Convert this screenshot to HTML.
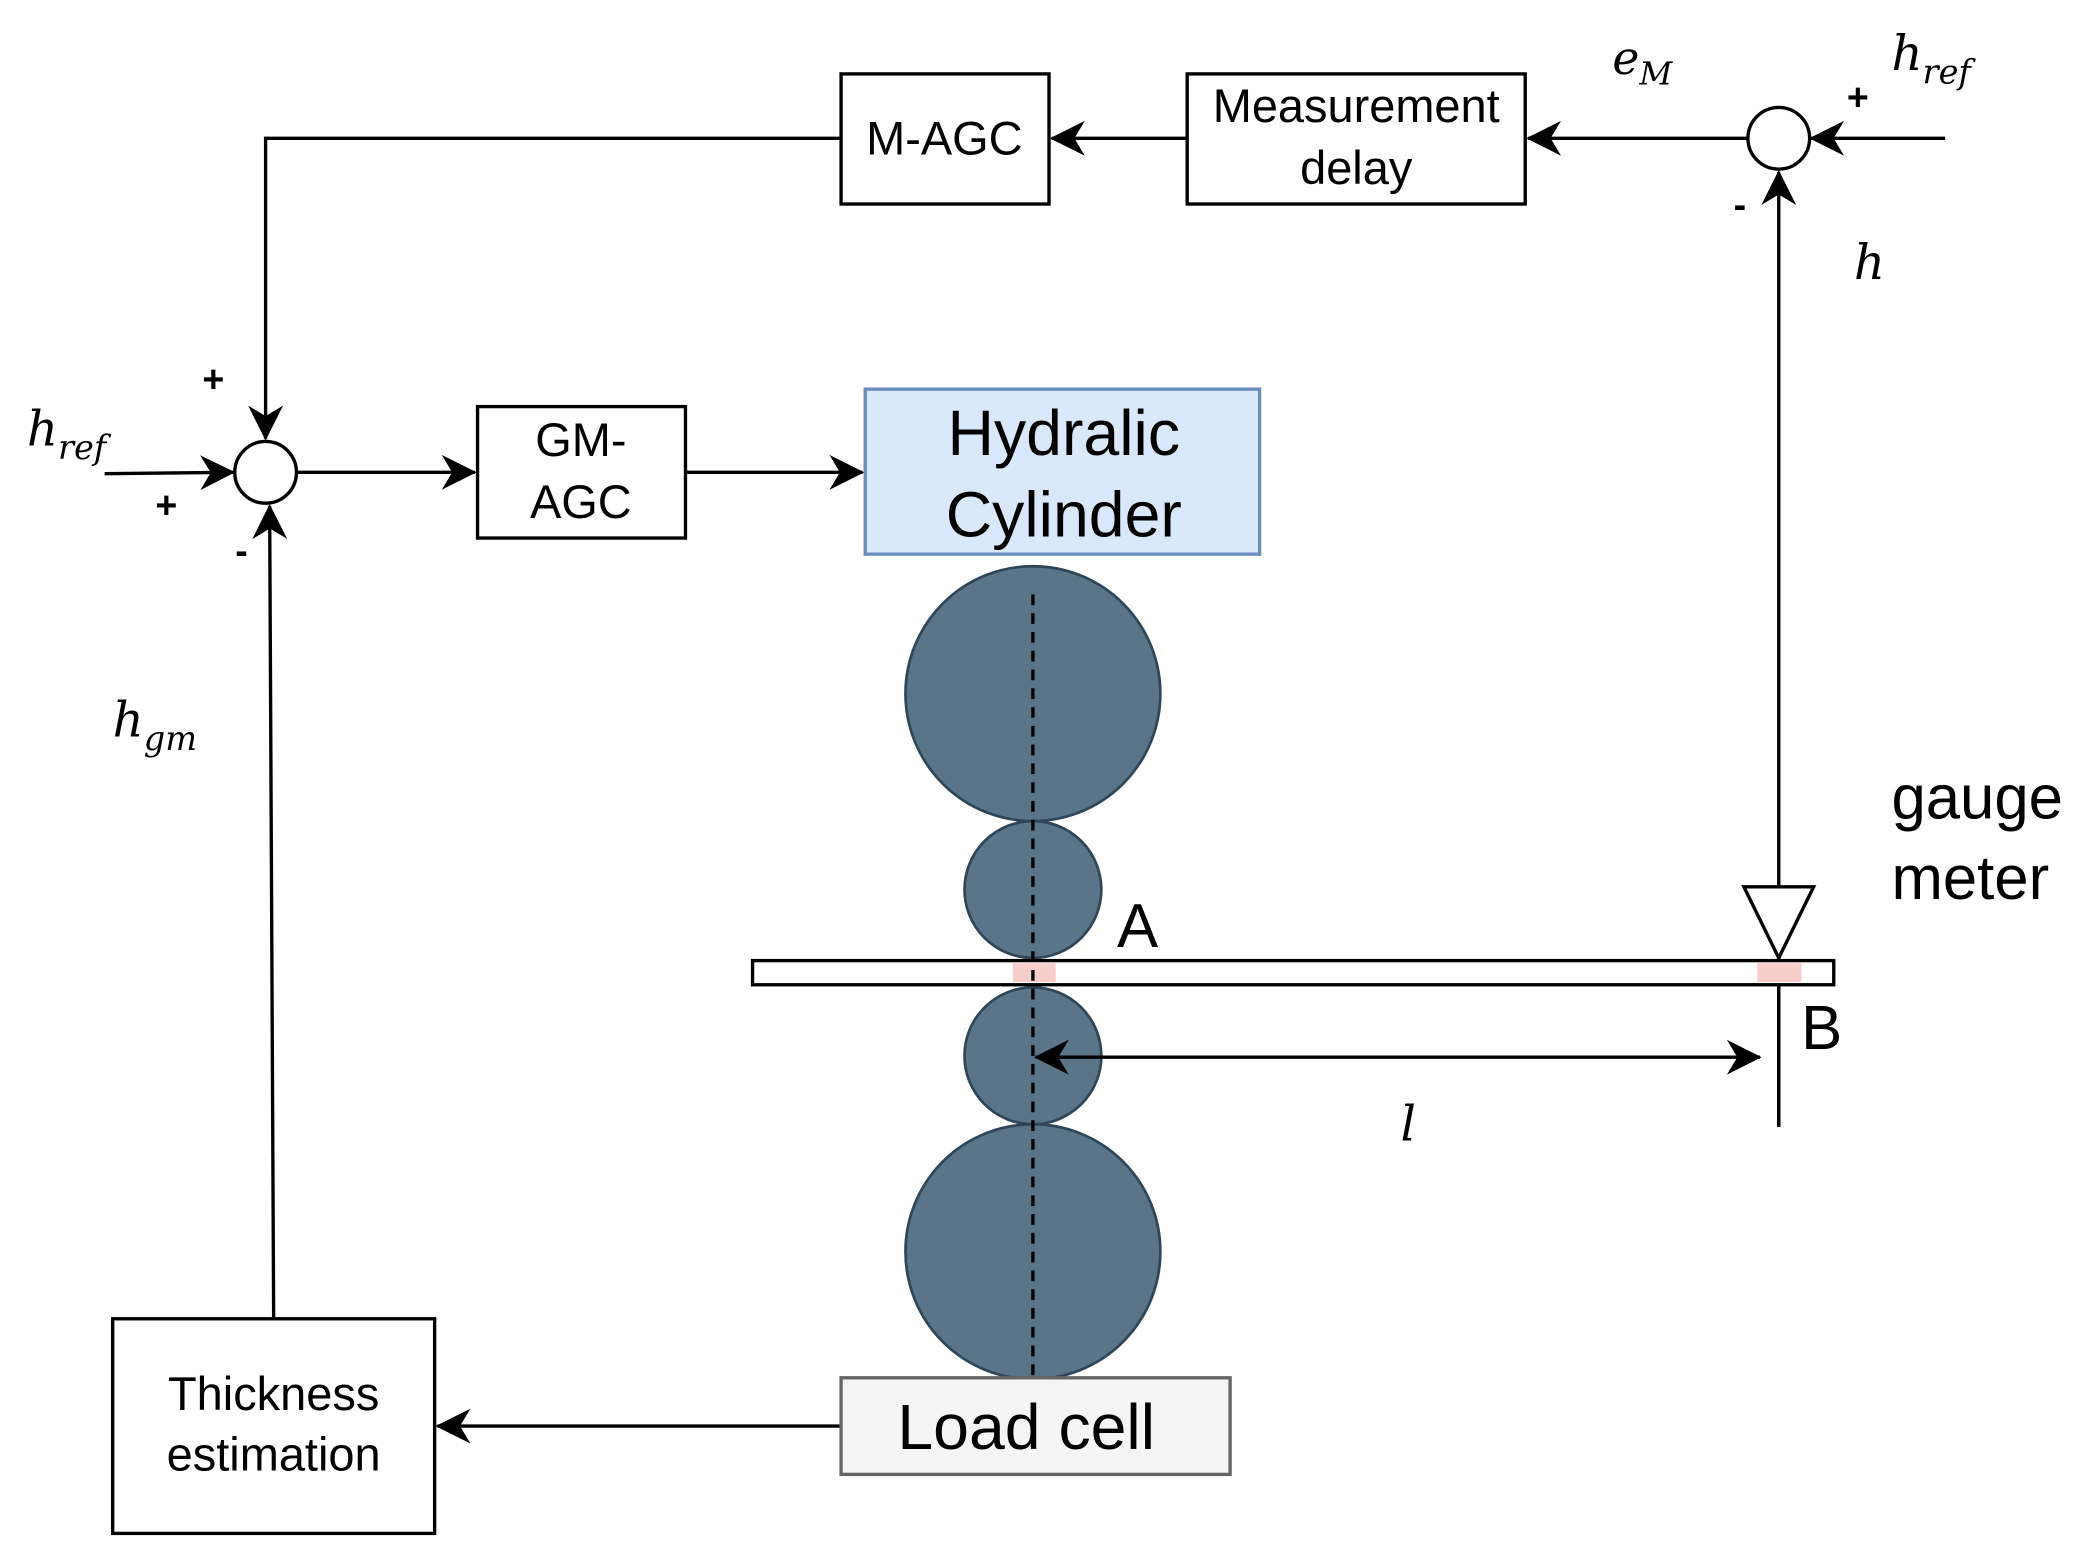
<!DOCTYPE html>
<html><head><meta charset="utf-8"><style>html,body{margin:0;padding:0;background:#fff}svg{display:block}</style></head>
<body>
<svg width="2094" height="1555" viewBox="0 0 1561 1159" xmlns="http://www.w3.org/2000/svg" font-family="Liberation Sans, sans-serif">
<defs>
<marker id="a" viewBox="0 0 20 20" refX="19" refY="10" markerWidth="26" markerHeight="26" markerUnits="userSpaceOnUse" orient="auto-start-reverse">
<path d="M0,0 L20,10 L0,20 L6,10 Z" fill="#000"/></marker>
</defs>
<g stroke="#000" stroke-width="2.5" fill="none">
<line x1="1450" y1="103" x2="1350" y2="103" marker-end="url(#a)"/>
<line x1="1303" y1="103" x2="1139" y2="103" marker-end="url(#a)"/>
<line x1="885" y1="103" x2="784" y2="103" marker-end="url(#a)"/>
<polyline points="627,103 198,103 198,327" marker-end="url(#a)"/>
<line x1="78" y1="353" x2="174" y2="352" marker-end="url(#a)"/>
<line x1="221" y1="352" x2="354" y2="352" marker-end="url(#a)"/>
<line x1="511" y1="352" x2="643" y2="352" marker-end="url(#a)"/>
<line x1="627" y1="1063" x2="326" y2="1063" marker-end="url(#a)"/>
<line x1="204" y1="983" x2="201" y2="377" marker-end="url(#a)"/>
<line x1="1326" y1="840" x2="1326" y2="128" marker-end="url(#a)"/>
<circle cx="1326" cy="103" r="23" fill="#fff"/>
<circle cx="198" cy="352" r="23" fill="#fff"/>
<rect x="627" y="55" width="155" height="97" fill="#fff"/>
<rect x="885" y="55" width="252" height="97" fill="#fff"/>
<rect x="356" y="303" width="155" height="98" fill="#fff"/>
<rect x="84" y="983" width="240" height="160" fill="#fff"/>
</g>
<rect x="645" y="290" width="294" height="123" fill="#dae8fc" stroke="#6c8ebf" stroke-width="2.5"/>
<g fill="#5a7488" stroke="#2f4558" stroke-width="2">
<circle cx="770" cy="517" r="95"/>
<circle cx="770" cy="663" r="51"/>
<circle cx="770" cy="787" r="51"/>
<circle cx="770" cy="933" r="95"/>
</g>
<rect x="561" y="716" width="806" height="18" fill="#fff" stroke="#000" stroke-width="2.5"/>
<rect x="755" y="718" width="32" height="14" fill="#f8cecc"/>
<rect x="1310" y="718" width="33" height="14" fill="#f8cecc"/>
<line x1="1326" y1="734" x2="1326" y2="840" stroke="#000" stroke-width="2.5"/>
<polygon points="1300,661 1352,661 1326,714" fill="#fff" stroke="#000" stroke-width="2.5"/>
<line x1="772" y1="788" x2="1312" y2="788" stroke="#000" stroke-width="2.5" marker-start="url(#a)" marker-end="url(#a)"/>
<rect x="627" y="1027" width="290" height="72" fill="#f5f5f5" stroke="#666" stroke-width="2.5"/>
<line x1="770" y1="443" x2="770" y2="1030" stroke="#000" stroke-width="2.5" stroke-dasharray="8,6"/>
<g fill="#000" text-anchor="middle">
<text x="704" y="115" font-size="35">M-AGC</text>
<text x="1011" y="91" font-size="35">Measurement</text>
<text x="1011" y="137" font-size="35">delay</text>
<text x="433" y="340" font-size="35">GM-</text>
<text x="433" y="386" font-size="35">AGC</text>
<text x="793" y="339" font-size="48">Hydralic</text>
<text x="793" y="400" font-size="48">Cylinder</text>
<text x="204" y="1051" font-size="35">Thickness</text>
<text x="204" y="1096" font-size="35">estimation</text>
<text x="765" y="1080" font-size="48">Load cell</text>
<text x="848" y="706" font-size="46">A</text>
<text x="1358" y="782" font-size="46">B</text>
<text x="159" y="292" font-size="28" font-weight="bold">+</text>
<text x="124" y="386" font-size="28" font-weight="bold">+</text>
<text x="180" y="420" font-size="28" font-weight="bold">-</text>
<text x="1385" y="82" font-size="28" font-weight="bold">+</text>
<text x="1297" y="162" font-size="28" font-weight="bold">-</text>
</g>
<g fill="#000" font-size="46">
<text x="1410" y="610">gauge</text>
<text x="1410" y="670">meter</text>
</g>
<g fill="#000" font-family="DejaVu Serif, serif" font-style="italic">
<text x="1202" y="55" font-size="34">e<tspan font-size="24" dy="8">M</tspan></text>
<text x="1410" y="52" font-size="36">h<tspan font-size="25" dy="10">ref</tspan></text>
<text x="20" y="332" font-size="36">h<tspan font-size="25" dy="10">ref</tspan></text>
<text x="1382" y="208" font-size="36">h</text>
<text x="84" y="549" font-size="36">h<tspan font-size="25" dy="10">gm</tspan></text>
<text x="1044" y="850" font-size="36">l</text>
</g>
</svg>
</body></html>
